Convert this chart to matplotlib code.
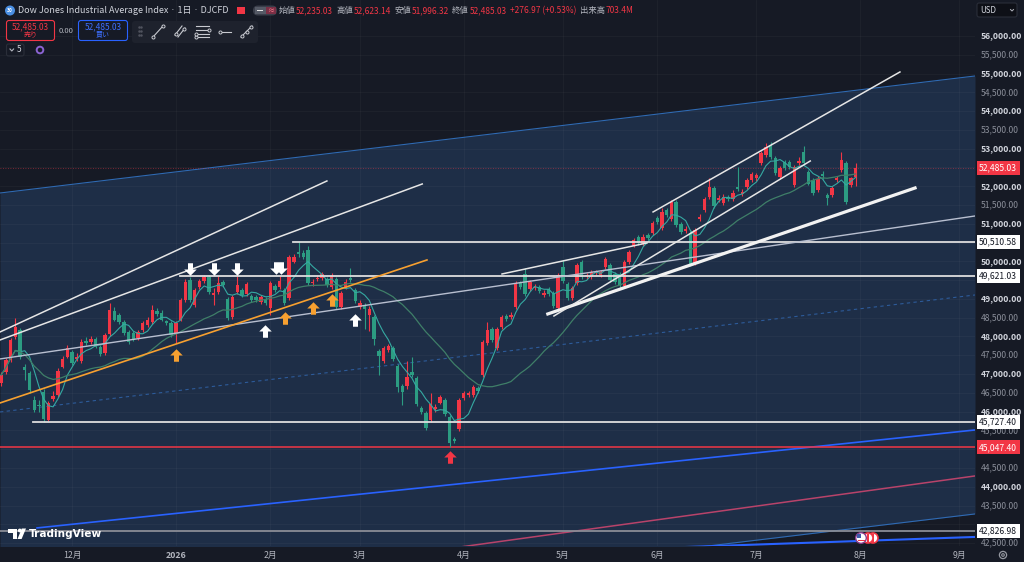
import numpy as np
import pandas as pd
import matplotlib.pyplot as plt
from matplotlib.path import Path
from matplotlib.patches import FancyBboxPatch, Circle, Rectangle, Polygon

plt.rcParams['font.family'] = ['Noto Sans CJK JP', 'DejaVu Sans']

BG = '#161a25'
UP = '#f23645'      # 陽線 (Japanese style: red = up)
DOWN = '#2c9c82'    # 陰線

# ---- daily candles, index 0 = 2025-12-01 (trading days) ----
bar_idx = list(range(-15, 167))
opens = [46760, 47055, 47375, 47987, 48173, 47190, 47030, 46320, 46180, 46523,
         45778, 46338, 46443, 47189, 47455, 47588, 47402, 47348, 47880, 47854,
         47933, 47720, 47560, 48067, 48680, 48573, 48386, 48120, 48093, 47960,
         48173, 48306, 48386, 48680, 48626, 48413, 48360, 48093, 48440, 48972,
         49504, 48839, 49318, 49478, 49585, 49105, 49185, 49451, 49000, 48520,
         49185, 49238, 49132, 49079, 49050, 48920, 49000, 48759, 49345, 49318,
         49238, 49025, 49984, 50250, 50223, 50303, 49420, 49530, 49557, 49530,
         49318, 49530, 48785, 49318, 49560, 49238, 48785, 48840, 48573, 48520,
         47615, 47348, 47640, 47694, 47216, 46682, 46682, 47056, 46896, 46097,
         45964, 45778, 46080, 46240, 46296, 45844, 45270, 45538, 46350, 46440,
         46443, 46630, 46975, 47830, 48200, 47680, 48254, 48546, 48520, 48785,
         49424, 49664, 49265, 49290, 49318, 49105, 49265, 49158, 48759, 49850,
         49398, 49025, 49424, 49984, 49600, 49584, 49690, 49637, 49850, 49904,
         49664, 49664, 49345, 49984, 50410, 50650, 50462, 50700, 50756, 51155,
         50888, 51368, 51129, 51581, 50995, 50808, 50756, 49957, 51140, 51368,
         51714, 51953, 51640, 51554, 51714, 51661, 51980, 51793, 51980, 52166,
         52206, 52619, 52832, 53098, 52752, 52246, 52646, 52646, 52033, 52620,
         52912, 52380, 52166, 51900, 52320, 51770, 51767, 52170, 52433, 52619,
         52046, 52235.03]
highs = [47050, 47440, 47960, 48493, 48230, 47260, 47080, 46420, 46300, 46600,
         46290, 46560, 47150, 47470, 47770, 47640, 47560, 47940, 47990, 48010,
         47990, 47760, 48090, 48892, 48780, 48620, 48430, 48170, 48140, 48170,
         48410, 48520, 48839, 48760, 48700, 48450, 48400, 48410, 49030, 49520,
         49585, 49300, 49540, 49640, 49637, 49300, 49620, 49500, 49050, 49100,
         49620, 49290, 49450, 49130, 49100, 49110, 49050, 49480, 49400, 49620,
         49290, 50170, 50200, 50510, 50300, 50420, 49540, 49640, 49720, 49580,
         49680, 49580, 49220, 49520, 49824, 49290, 48960, 48900, 48800, 48570,
         47660, 47740, 47800, 47750, 47270, 46730, 47340, 47455, 46950, 46150,
         46010, 46497, 46200, 46440, 46350, 45900, 45320, 46360, 46540, 46560,
         46720, 46690, 47910, 48386, 48260, 48250, 48570, 48600, 48640, 49480,
         49470, 49824, 49510, 49400, 49370, 49230, 49320, 49210, 49700, 50037,
         49450, 49350, 49960, 50040, 49700, 49770, 49780, 49780, 50120, 49960,
         49720, 49720, 50040, 50300, 50620, 50700, 50720, 50760, 51080, 51210,
         51421, 51420, 51640, 51630, 51050, 50930, 50800, 50890, 51250, 51720,
         52220, 52010, 51760, 51780, 51760, 51900, 52513, 51920, 52220, 52380,
         52360, 52940, 53151, 53178, 52800, 52540, 52700, 52700, 52570, 52780,
         53072, 52430, 52220, 52260, 52400, 51830, 52010, 52280, 52912, 52680,
         52240, 52623.14]
lows = [46690, 46990, 47320, 47940, 47400, 46840, 46500, 45990, 46000, 45727.40,
        45740, 46280, 46400, 47150, 47420, 47240, 47350, 47300, 47780, 47800,
        47680, 47480, 47500, 48020, 48400, 48330, 48050, 47800, 47880, 47910,
        48120, 48260, 48340, 48550, 48400, 48300, 47990, 47827, 48400, 48930,
        48920, 48780, 49270, 49430, 49130, 48839, 49140, 49330, 48440, 48460,
        49140, 49060, 49080, 48930, 48930, 48860, 48840, 48573, 49190, 49270,
        48840, 48980, 49950, 50120, 50060, 49370, 49340, 49480, 49510, 49320,
        49270, 48740, 48730, 49270, 49440, 48890, 48730, 48200, 48150, 47774,
        46975, 47300, 47600, 47350, 46523, 46180, 46600, 46920, 46150, 45940,
        45510, 45720, 46000, 46200, 45870, 45047.40, 45160, 45480, 46300, 46390,
        46400, 46490, 46930, 47780, 47860, 47630, 48200, 48420, 48470, 48740,
        49260, 49080, 49220, 49240, 49160, 49050, 49080, 48760, 48700, 49430,
        48970, 48970, 49370, 49530, 49540, 49530, 49640, 49590, 49800, 49450,
        49400, 49300, 49290, 49940, 50370, 50440, 50410, 50570, 50700, 51000,
        50840, 51180, 51080, 50920, 50730, 50760, 49880, 49900, 51080, 51320,
        51660, 51420, 51580, 51500, 51600, 51600, 51870, 51740, 51930, 52120,
        52150, 52560, 52780, 52720, 52300, 52190, 52430, 52460, 51980, 52560,
        52570, 52020, 51770, 51850, 52200, 51500, 51720, 52120, 52380, 51520,
        51990, 51996.32]
closes = [46975, 47375, 47907, 48254, 47455, 47110, 46576, 46044, 46150, 45790,
          46230, 46420, 47082, 47402, 47694, 47295, 47455, 47854, 47830, 47933,
          47720, 47535, 48040, 48706, 48440, 48386, 48093, 47854, 47933, 48120,
          48360, 48440, 48706, 48600, 48440, 48360, 48040, 48360, 48972, 49451,
          48972, 49238, 49478, 49585, 49185, 49160, 49424, 49371, 48493, 49052,
          49371, 49105, 49398, 48972, 48972, 49052, 48892, 49424, 49238, 49478,
          48892, 50117, 50117, 50200, 50117, 49424, 49460, 49570, 49664, 49371,
          49610, 48785, 49158, 49451, 49500, 48945, 48892, 48720, 48733, 47934,
          47482, 47680, 47750, 47402, 46656, 46523, 46922, 46975, 46204, 45990,
          45565, 46204, 46120, 46376, 45924, 45165, 45220, 46310, 46483, 46490,
          46656, 46540, 47854, 48173, 47907, 48200, 48520, 48466, 48573, 49424,
          49318, 49132, 49451, 49330, 49212, 49158, 49132, 48812, 49637, 49478,
          49025, 49292, 49904, 49584, 49640, 49717, 49717, 49717, 50064, 49504,
          49451, 49371, 49984, 50250, 50569, 50490, 50650, 50620, 51022, 51049,
          51315, 51235, 51581, 50968, 50782, 50862, 49930, 50835, 51180, 51661,
          51980, 51474, 51680, 51714, 51661, 51820, 51927, 51847, 52166, 52326,
          52299, 52885, 53045, 52779, 52353, 52486, 52486, 52513, 52513, 52660,
          52619, 52070, 51820, 52193, 52270, 51700, 51953, 52210, 52699, 51581,
          52208.06, 52485.03]

month_pos = [0, 22, 42, 61, 83, 104, 124, 145, 167, 188]
month_labels = ['12月', '2026', '2月', '3月', '4月', '5月', '6月', '7月', '8月', '9月']
price_ticks = list(range(42500, 56001, 500))

# ---- drawings (bar index, price) ----
chan_x = [-15.25, 191.3]
chan_top = [51820, 54935]
chan_mid = [45990, 49105]
chan_bot = [40160, 43275]
blue1_x, blue1_y = [-7.4, 191.3], [42903, 45511]
blue2_x, blue2_y = [120, 191.3], [42351, 42663]
pink_x, pink_y = [60, 191.3], [42010, 44287]
line_a_x, line_a_y = [-15.25, 54.0], [48120, 52140]
line_b_x, line_b_y = [-15.25, 74.2], [47907, 52060]
line_c_x, line_c_y = [-15.25, 191.3], [47402, 51208]
orange_x, orange_y = [-15.25, 75.2], [46230, 50037]
line_d_x, line_d_y = [91.1, 121.8], [49664, 50490]
line_e_x, line_e_y = [100.8, 178.6], [48600, 51954]
line_f_x, line_f_y = [102.1, 156.4], [48546, 52672]
line_g_x, line_g_y = [123.1, 175.4], [51315, 55042]
white_levels = [50510.58, 49621.03, 45727.40]
white_starts = [46.8, 22.9, -8.3]
red_level = 45047.40
grey_level = 42826.98
last_price = 52485.03

white_down_x = [25.0, 30.1, 35.0, 43.2, 44.3]
white_down_y = [49797, 49797, 49797, 49824, 49824]
white_up_x, white_up_y = [40.9, 60.0], [48147, 48440]
orange_up_x = [22.0, 45.1, 51.1, 55.1]
orange_up_y = [47508, 48493, 48759, 48972]
red_up_x, red_up_y = [80.1], [44793]

# header legend pieces
ohlc_labels = ['始値', '高値', '安値', '終値']
ohlc_values = ['52,235.03', '52,623.14', '51,996.32', '52,485.03']
change_text = '+276.97 (+0.53%)'
volume_text = '703.4M'

fig = plt.figure(figsize=(10.24, 5.62), dpi=100, facecolor=BG)
ax = fig.add_axes([0, 16 / 562, 975 / 1024, 546 / 562])
ax.set_facecolor(BG)
ax.set_xlim(-15.25, 191.3)
ax.set_ylim(42422, 56958)
for s in ax.spines.values():
    s.set_visible(False)

# channel
ax.fill_between(chan_x, chan_bot, chan_top, color='#1e2e47', lw=0, zorder=0.3)
ax.plot(chan_x, chan_top, color='#2f6ab3', lw=0.8, zorder=1)
ax.plot(chan_x, chan_bot, color='#2f6ab3', lw=0.8, zorder=1)
ax.plot(chan_x, chan_mid, color='#2d5b9a', lw=0.8, ls=(0, (3, 3)), zorder=1)

ax.set_axisbelow(True)
ax.set_xticks(month_pos)
ax.set_xticklabels(month_labels, color='#b2b5be', fontsize=6.3)
ax.get_xticklabels()[1].set_fontweight('bold')
ax.set_yticks(price_ticks)
ax.tick_params(axis='x', length=0, pad=3.5)
ax.tick_params(axis='y', length=0, labelleft=False)
ax.grid(color='white', alpha=0.035, lw=0.6)

# other lines
ax.plot(blue1_x, blue1_y, color='#2962ff', lw=1.2, zorder=1.5)
ax.plot(blue2_x, blue2_y, color='#2962ff', lw=1.5, zorder=1.5)
ax.plot(pink_x, pink_y, color='#b8436a', lw=1.1, zorder=1.5)
ax.axhline(red_level, color=UP, lw=1.1, zorder=1.6)
ax.axhline(grey_level, color='#8a8d96', lw=1.3, zorder=1.6)
ax.axhline(last_price, color=UP, lw=0.6, ls=(0, (1, 2)), alpha=0.6, zorder=1.6)

# candles
o = np.array(opens)
c = np.array(closes)
cols = np.where(c >= o, UP, DOWN)
ax.vlines(bar_idx, lows, highs, colors=cols, lw=0.8, zorder=2)
ax.bar(bar_idx, np.maximum(np.abs(c - o), 18), bottom=np.minimum(o, c),
       width=0.72, color=cols, lw=0, zorder=2.1)

s = pd.Series(closes, index=bar_idx)
ax.plot(bar_idx, s.rolling(5, min_periods=1).mean(), color='#35a9a2', lw=0.8, zorder=2.5)
ax.plot(bar_idx, s.rolling(25, min_periods=1).mean(), color='#3f7f68', lw=0.9, zorder=2.5)

# drawings on top
for p, x0 in zip(white_levels, white_starts):
    ax.plot([x0, 191.3], [p, p], color='#dedede', lw=1.3, zorder=3)
ax.plot(line_a_x, line_a_y, color='#e6e6e6', lw=1.1, zorder=3)
ax.plot(line_b_x, line_b_y, color='#e6e6e6', lw=1.1, zorder=3)
ax.plot(line_c_x, line_c_y, color='#b8bfd0', lw=1.0, zorder=3)
ax.plot(orange_x, orange_y, color='#f7a030', lw=1.2, zorder=3)
ax.plot(line_d_x, line_d_y, color='#e6e6e6', lw=1.1, zorder=3)
ax.plot(line_e_x, line_e_y, color='#f2f2f2', lw=2.3, zorder=3)
ax.plot(line_f_x, line_f_y, color='#e6e6e6', lw=1.1, zorder=3)
ax.plot(line_g_x, line_g_y, color='#e6e6e6', lw=1.1, zorder=3)

up_arrow = Path([(-0.5, 0.0), (0, 0.5), (0.5, 0.0), (0.2, 0.0), (0.2, -0.5),
                 (-0.2, -0.5), (-0.2, 0.0), (-0.5, 0.0)], closed=True)
down_arrow = Path([(x, -y) for x, y in up_arrow.vertices], closed=True)
ax.plot(white_down_x, white_down_y, ls='none', marker=down_arrow, ms=9, color='white', mew=0, zorder=4)
ax.plot(white_up_x, white_up_y, ls='none', marker=up_arrow, ms=9, color='white', mew=0, zorder=4)
ax.plot(orange_up_x, orange_up_y, ls='none', marker=up_arrow, ms=9, color='#f7a030', mew=0, zorder=4)
ax.plot(red_up_x, red_up_y, ls='none', marker=up_arrow, ms=9, color=UP, mew=0, zorder=4)

# right price scale (ticks hidden under a level label are not drawn)
box_prices = white_levels + [grey_level, last_price, red_level]
ytr = ax.get_yaxis_transform()
for p in price_ticks:
    if min(abs(p - b) for b in box_prices) < 190:
        continue
    major = p % 1000 == 0
    ax.text(1.0062, p, f'{p:,.2f}', transform=ytr, ha='left', va='center', fontsize=6.2,
            color='#d1d4dc' if major else '#8a8e99', fontweight='bold' if major else 'normal',
            clip_on=False, zorder=5)
for p in white_levels + [grey_level]:
    ax.text(1.0042, p, f'{p:,.2f}', transform=ytr, ha='left', va='center', fontsize=6.2,
            color='#131722', clip_on=False, zorder=6,
            bbox=dict(boxstyle='square,pad=0.28', fc='white', ec='none'))
for p in [last_price, red_level]:
    ax.text(1.0042, p, f'{p:,.2f}', transform=ytr, ha='left', va='center', fontsize=6.2,
            color='white', clip_on=False, zorder=6,
            bbox=dict(boxstyle='square,pad=0.28', fc=UP, ec='none'))

# ---- overlay in pixel coordinates: header, logo, icons ----
ov = fig.add_axes([0, 0, 1, 1], zorder=5)
ov.set_xlim(0, 1024)
ov.set_ylim(562, 0)
ov.axis('off')
ov.patch.set_alpha(0)

ov.add_patch(Circle((10, 10.5), 5, fc='#4a8fe3', ec='none'))
ov.text(10, 10.7, '30', color='white', fontsize=3.5, ha='center', va='center', fontweight='bold')
ov.text(18.5, 10.5, 'Dow Jones Industrial Average Index · 1日 · DJCFD', color='#d1d4dc',
        fontsize=6.5, va='center')
ov.add_patch(Rectangle((237, 7), 8, 7, fc=UP, ec='none'))
ov.add_patch(FancyBboxPatch((253, 5.5), 24, 10, boxstyle='round,pad=0,rounding_size=5',
                            fc='#3a3e4a', ec='none'))
ov.add_patch(Rectangle((254.5, 7), 11, 7, fc='#555a66', ec='none'))
ov.add_patch(Rectangle((257, 9.8), 6, 1.5, fc='#e0e0e0', ec='none'))
ov.add_patch(Rectangle((266, 7), 10, 7, fc='#7a2f45', ec='none'))
ov.text(271, 10.8, '≈', color='#f77c8c', fontsize=5, ha='center', va='center')

# OHLC legend laid out piece after piece
renderer = fig.canvas.get_renderer()
inv = ov.transData.inverted()
pieces = []
for lab, val in zip(ohlc_labels, ohlc_values):
    pieces += [(lab, '#b2b5be', 0.3), (val, UP, 3.5)]
pieces += [(change_text, UP, 4), ('出来高', '#b2b5be', 0.3), (volume_text, UP, 0)]
cx = 279
for t, col, gap in pieces:
    txt = ov.text(cx, 10.5, t, color=col, fontsize=6.0, va='center')
    bb = txt.get_window_extent(renderer)
    cx = inv.transform((bb.x1, bb.y0))[0] + gap

# buy / sell boxes
ov.add_patch(FancyBboxPatch((6.5, 20.5), 48, 20, boxstyle='round,pad=0,rounding_size=2.5',
                            fc='#161a25', ec=UP, lw=0.8))
ov.text(30.5, 26.5, '52,485.03', color=UP, fontsize=6, ha='center', va='center')
ov.text(30.5, 34.5, '売り', color=UP, fontsize=5, ha='center', va='center')
ov.text(66.5, 31, '0.00', color='#b2b5be', fontsize=5.5, ha='center', va='center')
ov.add_patch(FancyBboxPatch((78.5, 20.5), 49, 20, boxstyle='round,pad=0,rounding_size=2.5',
                            fc='#161a25', ec='#2962ff', lw=0.8))
ov.text(103, 26.5, '52,485.03', color='#3d6fff', fontsize=6, ha='center', va='center')
ov.text(103, 34.5, '買い', color='#3d6fff', fontsize=5, ha='center', va='center')

# drawing toolbar
ov.add_patch(FancyBboxPatch((132, 21), 126, 22, boxstyle='round,pad=0,rounding_size=3',
                            fc='#1e222d', ec='none'))
for gy in (27, 31, 35):
    ov.plot([138.5, 140.5], [gy, gy], ls='none', marker='o', ms=0.8, color='#50535e')
tool = dict(color='#c8cad0', lw=0.8)
dot = dict(ls='none', marker='o', ms=2.2, mfc='#1e222d', mec='#c8cad0', mew=0.7)
ov.plot([153, 163], [37, 26], **tool)
ov.plot([153, 163], [37, 26], **dot)
ov.plot([175, 182], [35, 26], **tool)
ov.plot([178, 185], [37, 28], **tool)
ov.plot([176, 184], [34, 29], **dot)
for ly in (26, 30, 34, 37):
    ov.plot([196, 209], [ly, ly], **tool)
ov.plot([196, 209, 196], [37, 30, 34], **dot)
ov.plot([219, 231], [31.5, 31.5], **tool)
ov.plot([220], [31.5], **dot)
ov.plot([241, 252], [37, 26], **tool)
ov.plot([242, 246.5, 251], [36, 31.5, 27], **dot)

# interval / extra row
ov.add_patch(FancyBboxPatch((6.5, 44), 17.5, 12, boxstyle='round,pad=0,rounding_size=2',
                            fc='none', ec='#2a2e39', lw=0.8))
ov.plot([10, 11.8, 13.6], [49, 51, 49], color='#b2b5be', lw=0.8)
ov.text(17, 50, '5', color='#d1d4dc', fontsize=6, va='center')
ov.add_patch(Circle((40, 50), 3.3, fc='none', ec='#8a63d2', lw=1.4))

# currency box
ov.add_patch(FancyBboxPatch((977, 3), 40, 14, boxstyle='round,pad=0,rounding_size=2',
                            fc='#0e1017', ec='#2a2e39', lw=0.8))
ov.text(980, 10.3, 'USD', color='#d1d4dc', fontsize=5.8, va='center')
ov.plot([1010.5, 1012, 1013.5], [9.5, 11, 9.5], color='#b2b5be', lw=0.7)

# TradingView logo
ov.add_patch(Rectangle((8, 528.5), 8.5, 4, fc='white', ec='none'))
ov.add_patch(Rectangle((12.5, 528.5), 4, 10.5, fc='white', ec='none'))
ov.add_patch(Circle((19.8, 530.5), 1.9, fc='white', ec='none'))
ov.add_patch(Polygon([(17.5, 539), (21.8, 528.5), (26, 528.5), (21.6, 539)], fc='white', ec='none'))
ov.text(29, 534, 'TradingView', color='white', fontsize=7.6, fontweight='bold',
        va='center', family=['DejaVu Sans'])

# event markers
for ex in (873, 868):
    ov.add_patch(Circle((ex, 538), 5, fc='#ffffff', ec=UP, lw=1.2))
    ov.add_patch(Rectangle((ex - 0.6, 533.5), 1.2, 9, fc=UP, ec='none'))
ov.add_patch(Circle((861, 538), 5.3, fc='#ffffff', ec='#8a3a8a', lw=1.0))
ov.add_patch(Rectangle((857.5, 539.5), 7, 1.3, fc=UP, ec='none'))
ov.add_patch(Rectangle((856.5, 533.8), 4.5, 4, fc='#3c5aa8', ec='none'))

# settings gear
ov.add_patch(Circle((1003, 555), 3.6, fc='none', ec='#9598a1', lw=0.9))
ov.add_patch(Circle((1003, 555), 1.3, fc='none', ec='#9598a1', lw=0.8))

fig.savefig('out.png', dpi=100, facecolor=BG)
